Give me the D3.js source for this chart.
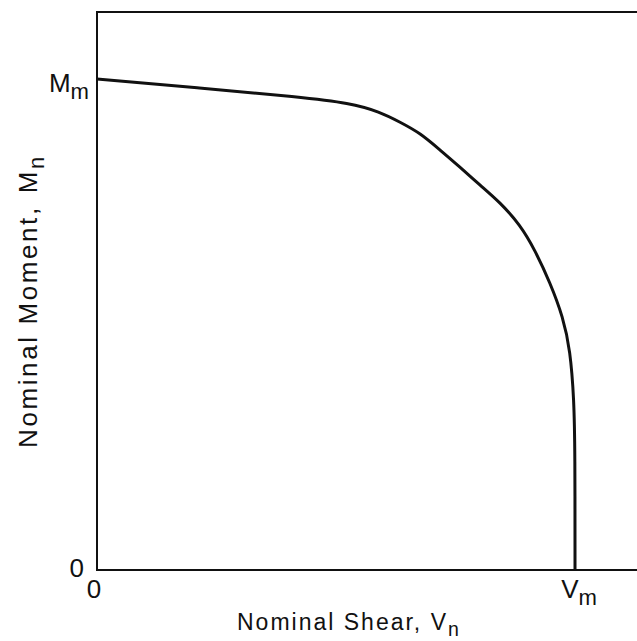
<!DOCTYPE html>
<html>
<head>
<meta charset="utf-8">
<script src="https://cdn.jsdelivr.net/npm/d3@7"></script>
<style>
  body { margin: 0; background: #fff; }
  text { font-family: "Liberation Sans", Arial, sans-serif; fill: #111; }
</style>
</head>
<body>
<div class="mainCont"></div>
<script>
// interaction curve, shear V/Vm and moment M/Mm
var shear = [0, 0.215, 0.425, 0.529, 0.592, 0.634, 0.676, 0.718, 0.759, 0.801, 0.843, 0.885, 0.916, 0.948, 0.975, 0.990, 0.998, 1.0, 1.0];
var moment = [1.0, 0.982, 0.963, 0.951, 0.933, 0.912, 0.890, 0.855, 0.821, 0.784, 0.749, 0.703, 0.652, 0.585, 0.515, 0.448, 0.346, 0.244, 0];
var xTicks = [0, 1];
var yTicks = [0, 1];
var xTickLabels = ["0", "V|m"];
var yTickLabels = ["0", "M|m"];

var width = 637, height = 641;
var margin = { top: 12, right: 0, bottom: 71, left: 97 };

var x = d3.scaleLinear().domain([0, 1]).range([margin.left, 575]);
var y = d3.scaleLinear().domain([0, 1]).range([height - margin.bottom, 79]);

var svg = d3.select(".mainCont").append("svg")
    .attr("width", width)
    .attr("height", height);

// frame (right side runs off the page)
svg.append("path")
    .attr("d", "M" + (width + 5) + "," + margin.top + "H" + margin.left + "V" + y(0) + "H" + (width + 5))
    .attr("fill", "none")
    .attr("stroke", "#111")
    .attr("stroke-width", 2);

// the curve
var pts = shear.map(function(d, i) { return [d, moment[i]]; });
var line = d3.line()
    .x(function(d) { return x(d[0]); })
    .y(function(d) { return y(d[1]); })
    .curve(d3.curveBasis);

svg.append("path")
    .datum(pts)
    .attr("d", line)
    .attr("fill", "none")
    .attr("stroke", "#111")
    .attr("stroke-width", 3);

// label with optional subscript, written "Main|sub"
function label(sel, str, size, gap) {
    var parts = str.split("|");
    sel.append("tspan").text(parts[0]);
    if (parts[1]) {
        sel.append("tspan")
            .attr("dy", size * 0.25)
            .attr("dx", gap || 0)
            .attr("font-size", size * 0.85)
            .text(parts[1]);
    }
}

// y tick labels
yTicks.forEach(function(t, i) {
    var tx = svg.append("text")
        .attr("x", i === 0 ? 84 : 89)
        .attr("y", y(t) + (i === 0 ? 7 : 13))
        .attr("text-anchor", "end")
        .attr("font-size", 26);
    label(tx, yTickLabels[i], 26);
});

// x tick labels
xTicks.forEach(function(t, i) {
    var tx = svg.append("text")
        .attr("x", x(t) + (i === 0 ? -3 : 4))
        .attr("y", y(0) + 28)
        .attr("text-anchor", "middle")
        .attr("font-size", 26);
    label(tx, xTickLabels[i], 26);
});

// axis titles
var xt = svg.append("text")
    .attr("x", 237)
    .attr("y", 630)
    .attr("font-size", 23)
    .attr("letter-spacing", 2);
label(xt, "Nominal Shear, V|n", 23);

var yt = svg.append("text")
    .attr("transform", "translate(37,448) rotate(-90)")
    .attr("font-size", 26)
    .attr("letter-spacing", 2.6);
yt.append("tspan").text("Nominal Moment,");
yt.append("tspan").attr("dx", 12).text("M");
yt.append("tspan").attr("dy", 7).attr("font-size", 22).text("n");
</script>
</body>
</html>
